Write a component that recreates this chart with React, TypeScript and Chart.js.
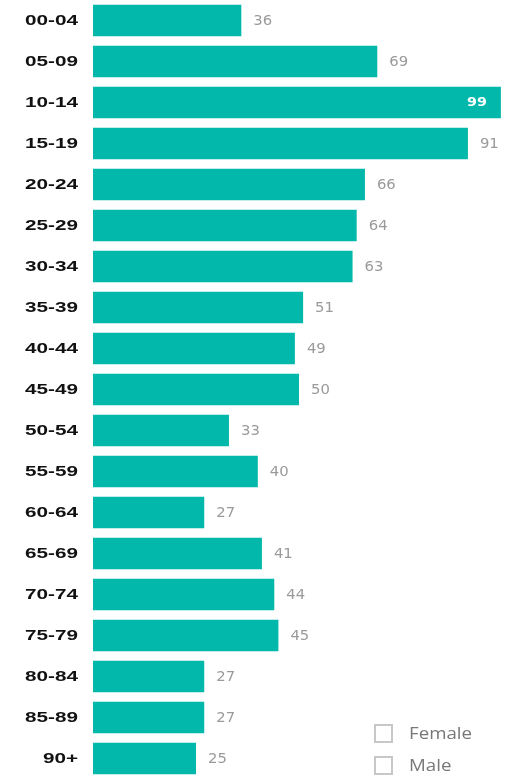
import React, { useEffect, useRef } from "react";
import { Chart, registerables } from "chart.js";

Chart.register(...registerables);

const categories = [
  "00-04", "05-09", "10-14", "15-19", "20-24", "25-29", "30-34", "35-39", "40-44", "45-49",
  "50-54", "55-59", "60-64", "65-69", "70-74", "75-79", "80-84", "85-89", "90+",
];
const values = [36, 69, 99, 91, 66, 64, 63, 51, 49, 50, 33, 40, 27, 41, 44, 45, 27, 27, 25];
const legendLabels = ["Female", "Male"];
const xMax = 100;

const TEAL = "#01B8AA";

const customDraw = {
  id: "customDraw",
  afterDatasetsDraw(chart: any) {
    const ctx = chart.ctx as CanvasRenderingContext2D;
    const yScale = chart.scales.y;
    const area = chart.chartArea;
    // y category labels
    ctx.save();
    ctx.fillStyle = "#111";
    ctx.font = "bold 15px 'Liberation Sans', Arial, sans-serif";
    ctx.textAlign = "right";
    ctx.textBaseline = "middle";
    categories.forEach((c, i) => {
      const y = yScale.getPixelForValue(i);
      ctx.save();
      ctx.translate(78, y + 0.5);
      ctx.scale(1.38, 1);
      ctx.fillText(c, 0, 0);
      ctx.restore();
    });
    ctx.restore();

    // data labels
    const meta = chart.getDatasetMeta(0);
    ctx.save();
    ctx.textBaseline = "middle";
    meta.data.forEach((el: any, i: number) => {
      const v = values[i];
      const text = String(v);
      const outsideX = el.x + 12;
      ctx.save();
      if (outsideX + 22 > area.right) {
        ctx.font = "bold 13px 'DejaVu Sans', sans-serif";
        ctx.fillStyle = "#ffffff";
        ctx.textAlign = "right";
        ctx.translate(el.x - 14, el.y + 0.5);
      } else {
        ctx.font = "13.5px 'DejaVu Sans', sans-serif";
        ctx.fillStyle = "#9a9a9a";
        ctx.textAlign = "left";
        ctx.translate(outsideX, el.y + 0.5);
      }
      ctx.scale(1.1, 1);
      ctx.fillText(text, 0, 0);
      ctx.restore();
    });
    ctx.restore();

    // legend
    ctx.save();
    legendLabels.forEach((lab, i) => {
      const top = 725 + i * 32;
      ctx.strokeStyle = "#c8c8c8";
      ctx.lineWidth = 2;
      ctx.strokeRect(375, top, 17, 17);
      ctx.fillStyle = "#777";
      ctx.font = "17px 'Open Sans', sans-serif";
      ctx.textAlign = "left";
      ctx.textBaseline = "middle";
      ctx.save();
      ctx.translate(409, top + 9);
      ctx.scale(1.1, 1);
      ctx.fillText(lab, 0, 0);
      ctx.restore();
    });
    ctx.restore();
  },
};

export default function App() {
  const ref = useRef<HTMLCanvasElement>(null);
  useEffect(() => {
    if (!ref.current) return;
    const chart = new Chart(ref.current, {
      type: "bar",
      data: {
        labels: categories,
        datasets: [
          {
            data: values,
            backgroundColor: TEAL,
            borderWidth: 0,
            barPercentage: 0.77,
            categoryPercentage: 1,
          },
        ],
      },
      options: {
        indexAxis: "y",
        responsive: false,
        animation: false,
        layout: { padding: { left: 93, right: 10, top: 0, bottom: 0 } },
        scales: {
          x: { display: false, min: 0, max: xMax, grid: { display: false } },
          y: { display: false, grid: { display: false } },
        },
        plugins: { legend: { display: false }, tooltip: { enabled: false } },
      },
      plugins: [customDraw],
    });
    return () => chart.destroy();
  }, []);
  return (
    <div style={{ position: "absolute", left: 0, top: 0, width: 515, height: 776, overflow: "hidden", background: "#fff" }}>
      <canvas ref={ref} width={515} height={779} style={{ display: "block" }} />
    </div>
  );
}
